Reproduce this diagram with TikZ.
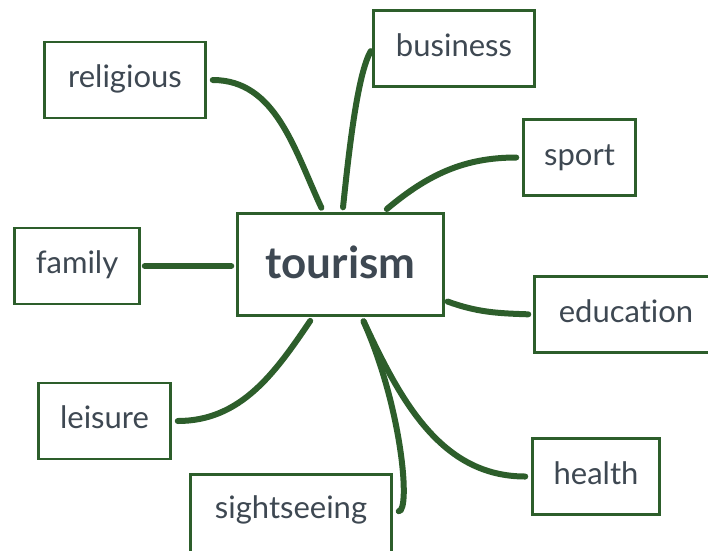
\documentclass[tikz,border=0pt]{standalone}
\usepackage{fontspec}
\setmainfont{Lato}[Ligatures = NoCommon]

\definecolor{leaf}{HTML}{2D5E2B}
\definecolor{ink}{HTML}{3E4852}

\begin{document}
\begin{tikzpicture}[x = 1pt, y = 1pt,
	topic/.style = {draw = leaf, line width = 2.5pt, text = ink, inner sep = 0pt,
		font = \fontsize{31}{36}\selectfont, text height = 22pt, text depth = 7pt,
		minimum height = 76pt},
	hub/.style = {topic, font = \fontsize{44}{50}\selectfont\bfseries,
		text height = 34pt, text depth = 7pt},
	link/.style = {draw = leaf, line width = 6pt, line cap = round,
		shorten < = 6pt, shorten > = 5pt}]

	\useasboundingbox (0, 0) rectangle (708, -550);

	% Central box

	\node [hub, minimum width = 206pt, minimum height = 102pt] (tourism) at (340.5, -264.5) {tourism};

	% Surrounding boxes

	\node [topic, minimum width = 161pt] (religious) at (125, -80) {religious};
	\node [topic, minimum width = 161pt] (business) at (454, -48.5) {business};
	\node [topic, minimum width = 112pt] (sport) at (579.5, -157.5) {sport};
	\node [topic, minimum width = 125pt] (family) at (77, -266) {family};
	\node [topic, minimum width = 183pt] (education) at (626, -314.5) {education};
	\node [topic, minimum width = 132pt] (leisure) at (104.5, -421) {leisure};
	\node [topic, minimum width = 127pt] (health) at (596, -476.5) {health};
	\node [topic, minimum width = 201pt, minimum height = 84pt, text depth = 18pt] (sightseeing) at (291, -516.25) {sightseeing};

	% Branches, upper half

	\draw [link] (religious.east) to [out = 0, in = 115] ([xshift = -17pt]tourism.north);
	\draw [link, shorten < = 3pt] (business.west) to [out = 240, in = 84, out distance = 30pt, in distance = 60pt] ([xshift = 2pt]tourism.north);
	\draw [link] (sport.west) to [out = 180, in = 40] ([xshift = 42.5pt]tourism.north);
	\draw [link, shorten < = 4pt] (family.east) -- (family.east -| tourism.west);
	\draw [link, shorten < = 3pt] ([yshift = -36pt]tourism.east) to [out = -20, in = 178] (education.west);

	% Branches, lower half

	\draw [link] (leisure.east) to [out = 0, in = 236] ([xshift = -27.5pt]tourism.south);
	\draw [link] ([yshift = 5pt]sightseeing.east) to [out = 0, in = -66, out distance = 18pt, in distance = 100pt] ([xshift = 21pt]tourism.south);
	\draw [link] (health.west) to [out = 180, in = -65] ([xshift = 21pt]tourism.south);

\end{tikzpicture}
\end{document}
